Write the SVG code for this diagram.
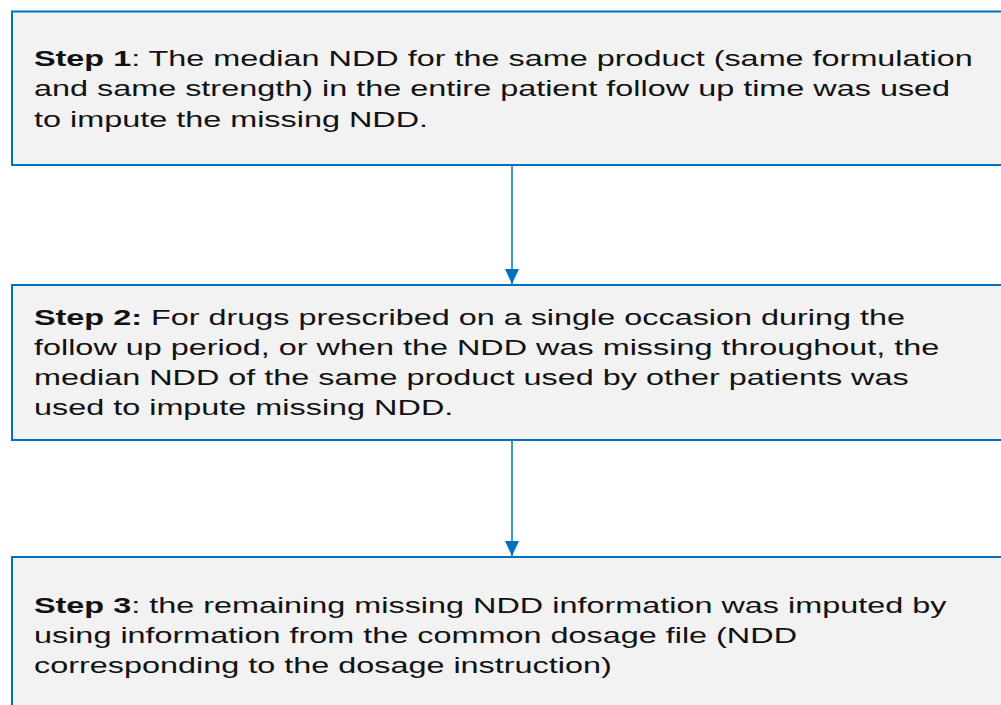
<svg xmlns="http://www.w3.org/2000/svg" width="1001" height="705" viewBox="0 0 1001 705">
<style>
.box{fill:#f2f2f2;stroke:#0070c0;stroke-width:2}
.t{font-family:"Liberation Sans",Arial,sans-serif;font-size:22.5px;fill:#111}
.b{font-weight:bold}
.conn{stroke:#0070c0;stroke-width:1.5;fill:none}
</style>
<defs>
<marker id="arr" markerUnits="userSpaceOnUse" markerWidth="16" markerHeight="14" refX="15" refY="7" orient="auto">
<path d="M0,0 L15,7 L0,14 Z" fill="#0070c0"/>
</marker>
</defs>
<rect width="1001" height="705" fill="#ffffff"/>
<g id="connectors">
<line class="conn" x1="512" y1="165" x2="512" y2="284" marker-end="url(#arr)"/>
<line class="conn" x1="512" y1="440" x2="512" y2="556" marker-end="url(#arr)"/>
</g>
<g id="step1">
<rect class="box" x="12" y="11.5" width="1000" height="153.5"/>
<g transform="matrix(1.44 0 0 1 0 0)">
<text class="t" x="23.6" y="66"><tspan class="b">Step 1</tspan>: The median NDD for the same product (same formulation</text>
<text class="t" x="23.6" y="96.5">and same strength) in the entire patient follow up time was used</text>
<text class="t" x="23.6" y="127">to impute the missing NDD.</text>
</g>
</g>
<g id="step2">
<rect class="box" x="12" y="285" width="1000" height="155"/>
<g transform="matrix(1.44 0 0 1 0 0)">
<text class="t" x="23.6" y="325"><tspan class="b">Step 2:</tspan> For drugs prescribed on a single occasion during the</text>
<text class="t" x="23.6" y="355">follow up period, or when the NDD was missing throughout, the</text>
<text class="t" x="23.6" y="385">median NDD of the same product used by other patients was</text>
<text class="t" x="23.6" y="415">used to impute missing NDD.</text>
</g>
</g>
<g id="step3">
<rect class="box" x="12" y="557" width="1000" height="160"/>
<g transform="matrix(1.44 0 0 1 0 0)">
<text class="t" x="23.6" y="613"><tspan class="b">Step 3</tspan>: the remaining missing NDD information was imputed by</text>
<text class="t" x="23.6" y="643">using information from the common dosage file (NDD</text>
<text class="t" x="23.6" y="673">corresponding to the dosage instruction)</text>
</g>
</g>
</svg>
